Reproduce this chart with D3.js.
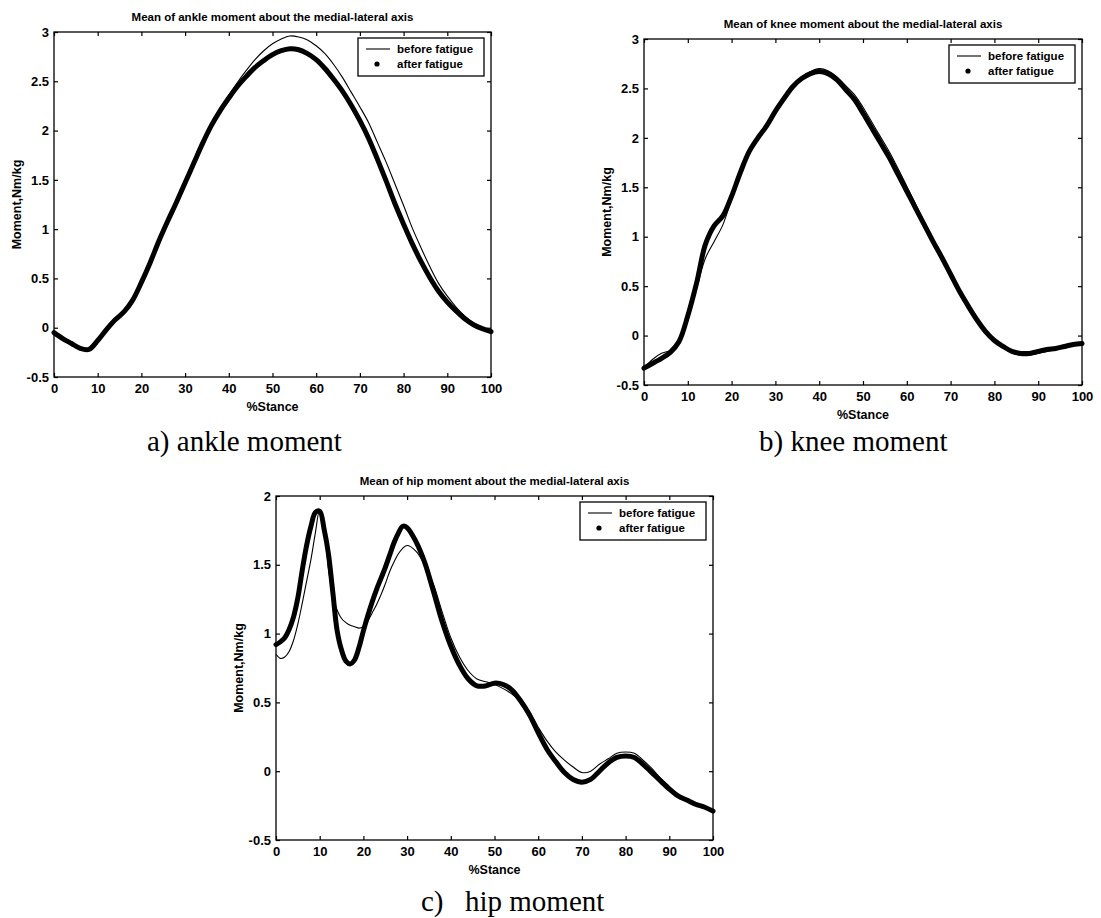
<!DOCTYPE html>
<meta charset="utf-8">
<style>

body {
  margin: 0;
  background: #fff;
}

svg {
  display: block;
}

.tick text {
  font: bold 13px "Liberation Sans", Arial, sans-serif;
  fill: #000;
}

.title {
  font: bold 11.5px "Liberation Sans", Arial, sans-serif;
  text-anchor: middle;
}

.axis-label {
  font: bold 12.5px "Liberation Sans", Arial, sans-serif;
  text-anchor: middle;
}

.legend text {
  font: bold 11.5px "Liberation Sans", Arial, sans-serif;
}

.caption {
  font: 29px "Liberation Serif", "Times New Roman", serif;
}

</style>
<svg width="1101" height="918"></svg>
<script src="https://d3js.org/d3.v7.min.js"></script>
<script>

// % stance grid used for ankle and knee
var stance2 = [0,2,4,6,8,10,12,14,16,18,20,22,24,26,28,30,32,34,36,38,40,42,44,46,48,50,
               52,54,56,58,60,62,64,66,68,70,72,74,76,78,80,82,84,86,88,90,92,94,96,98,100];

// hip is sampled finer over the first 30%
var stanceHip = [0,1,2,3,4,5,6,7,8,9,10,11,12,13,14,15,16,17,18,19,20,21,22,23,24,25,26,27,28,29,30,
                 32,34,36,38,40,42,44,46,48,50,52,54,56,58,60,62,64,66,68,70,72,74,76,78,80,82,84,86,88,90,92,94,96,98,100];

var ankleBefore = [-0.05,-0.11,-0.16,-0.21,-0.21,-0.12,-0.02,0.08,0.16,0.28,0.46,0.66,0.88,1.08,1.27,1.47,1.68,1.88,2.06,2.22,2.36,
                   2.49,2.61,2.72,2.81,2.88,2.93,2.96,2.95,2.92,2.86,2.78,2.67,2.54,2.39,2.24,2.08,1.88,1.68,1.46,1.24,
                   1.01,0.81,0.62,0.45,0.32,0.21,0.12,0.05,0.00,-0.03];

var ankleAfter = [-0.05,-0.11,-0.16,-0.21,-0.22,-0.13,-0.02,0.08,0.16,0.28,0.46,0.66,0.88,1.08,1.27,1.47,1.67,1.87,2.05,2.20,2.33,
                  2.45,2.55,2.64,2.71,2.77,2.81,2.83,2.82,2.78,2.72,2.63,2.52,2.40,2.26,2.10,1.92,1.71,1.49,1.26,1.05,
                  0.85,0.67,0.51,0.37,0.26,0.17,0.09,0.03,-0.01,-0.04];

var kneeBefore = [-0.33,-0.24,-0.18,-0.15,-0.07,0.18,0.48,0.78,0.95,1.12,1.38,1.65,1.86,2.00,2.12,2.27,2.40,2.52,2.61,2.67,2.70,
                  2.68,2.62,2.53,2.44,2.31,2.16,2.01,1.86,1.69,1.51,1.33,1.15,0.97,0.80,0.63,0.47,0.31,0.17,0.05,-0.05,
                  -0.12,-0.17,-0.20,-0.20,-0.18,-0.16,-0.14,-0.12,-0.10,-0.08];

var kneeAfter = [-0.33,-0.28,-0.23,-0.17,-0.06,0.20,0.53,0.92,1.11,1.21,1.41,1.65,1.86,2.00,2.12,2.27,2.40,2.52,2.60,2.65,2.67,
                 2.65,2.59,2.49,2.39,2.25,2.10,1.95,1.80,1.63,1.46,1.29,1.12,0.95,0.79,0.62,0.45,0.30,0.16,0.04,-0.05,
                 -0.11,-0.16,-0.18,-0.18,-0.16,-0.14,-0.13,-0.11,-0.09,-0.08];

var hipBefore = [0.85,0.82,0.83,0.87,0.95,1.07,1.22,1.38,1.54,1.73,1.90,1.77,1.47,1.28,1.17,1.11,1.08,1.06,1.05,1.04,1.05,
                 1.09,1.15,1.21,1.28,1.36,1.45,1.52,1.58,1.62,1.64,
                 1.60,1.50,1.36,1.16,0.97,0.83,0.73,0.67,0.65,0.63,0.60,0.56,0.51,0.43,0.32,0.22,0.14,0.08,0.03,-0.01,
                 0.00,0.05,0.09,0.13,0.14,0.13,0.08,0.02,-0.05,-0.11,-0.17,-0.21,-0.24,-0.26,-0.29];

var hipAfter = [0.92,0.94,0.97,1.03,1.12,1.26,1.46,1.64,1.78,1.88,1.89,1.76,1.58,1.30,1.02,0.88,0.80,0.78,0.81,0.90,1.02,
                1.13,1.23,1.32,1.40,1.48,1.57,1.66,1.73,1.78,1.77,
                1.67,1.52,1.31,1.09,0.91,0.77,0.67,0.62,0.62,0.64,0.63,0.59,0.51,0.41,0.28,0.16,0.07,-0.01,-0.06,-0.08,
                -0.06,0.00,0.06,0.10,0.11,0.10,0.05,-0.01,-0.07,-0.13,-0.18,-0.21,-0.24,-0.26,-0.29];

var stanceTicks = [0,10,20,30,40,50,60,70,80,90,100];
var momentTicks3 = [-0.5,0,0.5,1,1.5,2,2.5,3];
var momentTicks2 = [-0.5,0,0.5,1,1.5,2];
var legendLabels = ["before fatigue", "after fatigue"];

var svg = d3.select("svg");

var panels = [
  {title: "Mean of ankle moment about the medial-lateral axis", box: [54, 491, 32, 377],
   yDomain: [-0.5, 3], yTicks: momentTicks3, x: stance2, before: ankleBefore, after: ankleAfter},
  {title: "Mean of knee moment about the medial-lateral axis", box: [644, 1082, 39, 385],
   yDomain: [-0.5, 3], yTicks: momentTicks3, x: stance2, before: kneeBefore, after: kneeAfter},
  {title: "Mean of hip moment about the medial-lateral axis", box: [276, 713, 496, 840],
   yDomain: [-0.5, 2], yTicks: momentTicks2, x: stanceHip, before: hipBefore, after: hipAfter}
];

panels.forEach(drawPanel);

function drawPanel(p) {
  var left = p.box[0], right = p.box[1], top = p.box[2], bottom = p.box[3],
      w = right - left, h = bottom - top;

  var x = d3.scaleLinear().domain([0, 100]).range([0, w]);
  var y = d3.scaleLinear().domain(p.yDomain).range([h, 0]);

  var g = svg.append("g").attr("transform", "translate(" + left + "," + top + ")");

  var fmt = function(d) { return String(d); };

  // MATLAB style: ticks point inwards on all four sides
  g.append("g").attr("transform", "translate(0," + h + ")")
      .call(d3.axisBottom(x).tickValues(stanceTicks).tickFormat(fmt).tickSize(-4).tickPadding(7))
      .call(function(a) { a.select(".domain").remove(); });
  g.append("g")
      .call(d3.axisTop(x).tickValues(stanceTicks).tickFormat("").tickSize(-4))
      .call(function(a) { a.select(".domain").remove(); });
  g.append("g")
      .call(d3.axisLeft(y).tickValues(p.yTicks).tickFormat(fmt).tickSize(-4).tickPadding(5))
      .call(function(a) { a.select(".domain").remove(); });
  g.append("g").attr("transform", "translate(" + w + ",0)")
      .call(d3.axisRight(y).tickValues(p.yTicks).tickFormat("").tickSize(-4))
      .call(function(a) { a.select(".domain").remove(); });

  g.selectAll(".tick line").attr("stroke", "#000").attr("stroke-width", 1.2);

  g.append("rect")
      .attr("width", w).attr("height", h)
      .attr("fill", "none").attr("stroke", "#000").attr("stroke-width", 1.3);

  var line = d3.line()
      .x(function(d) { return x(d[0]); })
      .y(function(d) { return y(d[1]); })
      .curve(d3.curveCatmullRom.alpha(0.5));

  var afterPts = d3.zip(p.x, p.after),
      beforePts = d3.zip(p.x, p.before);

  // after fatigue: dense dot markers that merge into a heavy trace
  g.append("path")
      .datum(afterPts)
      .attr("d", line)
      .attr("fill", "none")
      .attr("stroke", "#000")
      .attr("stroke-width", 5)
      .attr("stroke-linejoin", "round")
      .attr("stroke-linecap", "round");

  g.append("path")
      .datum(beforePts)
      .attr("d", line)
      .attr("fill", "none")
      .attr("stroke", "#000")
      .attr("stroke-width", 1.1);

  g.append("text")
      .attr("class", "title")
      .attr("x", w / 2)
      .attr("y", -11)
      .text(p.title);

  g.append("text")
      .attr("class", "axis-label")
      .attr("x", w / 2)
      .attr("y", h + 34)
      .text("%Stance");

  g.append("text")
      .attr("class", "axis-label")
      .attr("transform", "translate(-33," + h / 2 + ") rotate(-90)")
      .text("Moment,Nm/kg");

  // legend, upper right
  var lw = 126, lh = 38;
  var lg = g.append("g")
      .attr("class", "legend")
      .attr("transform", "translate(" + (w - 7 - lw) + ",6)");

  lg.append("rect")
      .attr("width", lw).attr("height", lh)
      .attr("fill", "#fff").attr("stroke", "#000").attr("stroke-width", 1.3);

  lg.append("line")
      .attr("x1", 8).attr("x2", 32).attr("y1", 11).attr("y2", 11)
      .attr("stroke", "#000").attr("stroke-width", 1.1);

  lg.append("circle")
      .attr("cx", 19).attr("cy", 26).attr("r", 2.6)
      .attr("fill", "#000");

  lg.selectAll("text.item")
      .data(legendLabels)
      .enter().append("text")
      .attr("class", "item")
      .attr("x", 39)
      .attr("y", function(d, i) { return 15 + i * 15; })
      .text(function(d) { return d; });
}

// panel captions
svg.append("text").attr("class", "caption").attr("x", 147).attr("y", 451).text("a) ankle moment");
svg.append("text").attr("class", "caption").attr("x", 759).attr("y", 451).text("b) knee moment");
svg.append("text").attr("class", "caption").attr("x", 421).attr("y", 911).text("c)");
svg.append("text").attr("class", "caption").attr("x", 465).attr("y", 911).text("hip moment");

</script>
